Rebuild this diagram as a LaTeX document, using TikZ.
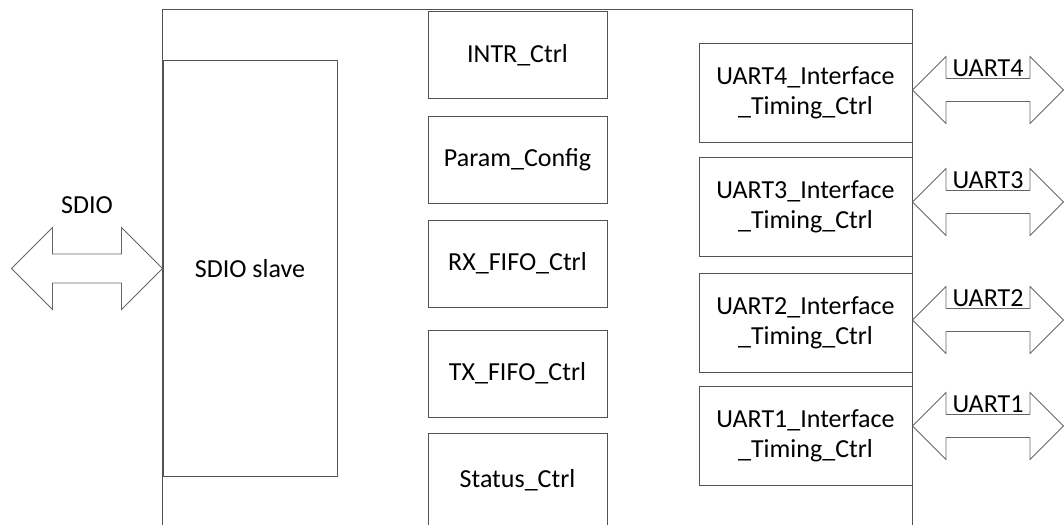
\documentclass[tikz,border=0pt]{standalone}
\usepackage{fontspec}
\setmainfont{Carlito}
\usetikzlibrary{positioning}

% double headed bus arrow: #1 left tip, #2 length, #3 head, #4 half shaft
\newcommand{\busarrow}[4]{%
  \draw[bus, shift={#1}] (0,0) -- (#3,-#3) -- (#3,-#4) -- ({#2-#3},-#4) -- ({#2-#3},-#3) -- (#2,0)
    -- ({#2-#3},#3) -- ({#2-#3},#4) -- (#3,#4) -- (#3,#3) -- cycle;}

\begin{document}
\begin{tikzpicture}
    [
    x=1pt, y=-1pt,
    line/.style={draw=black!68, line width=1pt},
    bus/.style={draw=black!60, line width=0.8pt},
    block/.style={line, rectangle, inner sep=0pt, align=center, font=\fontsize{26}{30}\selectfont},
    ctrl/.style={block, minimum width=179pt, minimum height=87pt},
    uartbox/.style={block, minimum width=213pt, minimum height=99pt},
    txt/.style={inner sep=0pt, font=\fontsize{26}{30}\selectfont}
    ]
    \clip (0,0) rectangle (1064,524);
    \node (slave) at (250,268.5) [block, minimum width=174pt, minimum height=415pt] {SDIO slave};
    % controller column
    \node (intr) at (517.5,55.5) [ctrl] {INTR\_Ctrl};
    \node (param) at (517.5,159.5) [ctrl] {Param\_Config};
    \node (rx) at (517.5,263.5) [ctrl] {RX\_FIFO\_Ctrl};
    \node (tx) at (517.5,373.5) [ctrl] {TX\_FIFO\_Ctrl};
    \node (status) at (517.5,480) [ctrl, minimum height=94pt] {Status\_Ctrl};
    % uart interfaces
    \node (u4) at (805.5,93) [uartbox] {UART4\_Interface\\\_Timing\_Ctrl};
    \node (u3) at (805.5,206.5) [uartbox] {UART3\_Interface\\\_Timing\_Ctrl};
    \node (u2) at (805.5,322.5) [uartbox] {UART2\_Interface\\\_Timing\_Ctrl};
    \node (u1) at (805.5,435.5) [uartbox] {UART1\_Interface\\\_Timing\_Ctrl};
    % outer frame, open at the bottom
    \draw [line] (slave.west |- 0,530) -- (slave.west |- 0,10) -- (u4.east |- 0,10) -- (u4.east |- 0,530);
    % host side
    \busarrow{([xshift=-151pt]slave.west)}{151}{41}{14.5}
    \node (sdio) at (87,205) [txt] {SDIO};
    % uart side
    \foreach \i/\up in {4/3,3/4.5,2/2.5,1/9.5}
    {
      \busarrow{([yshift=\up pt]u\i.east)}{151}{33.5}{11.5}
      \node (l\i) at ([xshift=75.5pt, yshift=\up pt+13.5pt]u\i.east) [txt, anchor=base] {UART\i};
    }
  \end{tikzpicture}
\end{document}
